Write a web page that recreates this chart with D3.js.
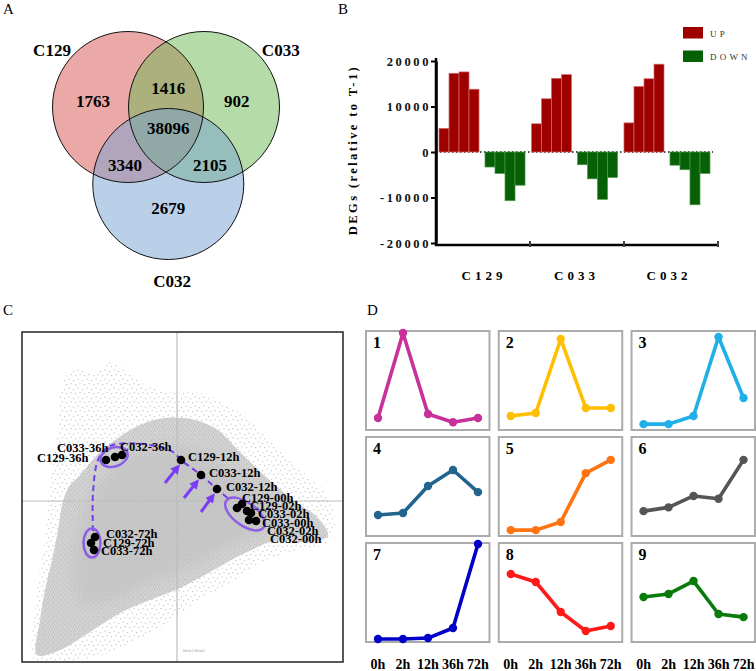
<!DOCTYPE html>
<html lang="en">
<head>
<meta charset="UTF-8">
<title>DEG figure</title>
<script src="https://d3js.org/d3.v7.min.js"></script>
<style>
  body { margin: 0; background: #fff; }
  svg text { font-family: "Liberation Serif", "Times New Roman", serif; }
</style>
</head>
<body>
<script>
// ---------- data ----------
// A: venn
var vennSets = ["C129", "C033", "C032"];
var vennSetColors = ["#d5534f", "#6bb751", "#75a1d1"];
var vennRegions = ["C129", "C033", "C032", "C129&C033", "C129&C032", "C033&C032", "all"];
var vennCounts = [1763, 902, 2679, 1416, 3340, 2105, 38096];

// B: DEGs relative to T-1
var degGroups = ["C129", "C033", "C032"];
var degTimes = ["2h", "12h", "36h", "72h"];
var upValues = [
  [5200, 17300, 17600, 13800],
  [6200, 11700, 16200, 17000],
  [6400, 14400, 16100, 19300]
];
var downValues = [
  [-3300, -4700, -10700, -7300],
  [-2800, -5900, -10400, -5600],
  [-2900, -3900, -11600, -4700]
];
var degTicks = [-20000, -10000, 0, 10000, 20000];

// C: PCA samples
var sampleNames = ["C129-36h", "C033-36h", "C032-36h", "C129-12h", "C033-12h", "C032-12h",
  "C129-00h", "C129-02h", "C033-02h", "C033-00h", "C032-02h", "C032-00h",
  "C032-72h", "C129-72h", "C033-72h"];
var samplePC1 = [-71, -62, -55, 4, 24, 40, 60, 65, 70, 74, 72, 79, -82, -86, -83];
var samplePC2 = [41, 44, 46, 41, 26, 12, -7, -3, -10, -12, -19, -20, -36, -42, -49];
// gene cloud outlines (halo / body / dense core), PC units
var haloOutline = [[-143,-159],[-141,-99],[-133,-44],[-127,16],[-119,71],[-115,116],[-102,133],[-82,126],
  [-67,139],[-37,119],[-12,109],[23,108],[51,96],[81,73],[115,39],[150,6],[158,-24],[150,-42],[123,-49],
  [85,-61],[55,-81],[23,-99],[-9,-121],[-42,-141],[-79,-155],[-117,-161]];
var bodyOutline = [[-140,-154],[-137,-119],[-132,-89],[-125,-59],[-119,-29],[-115,-4],[-109,13],[-97,26],
  [-80,46],[-59,63],[-37,76],[-12,83],[18,81],[41,71],[63,49],[88,25],[116,1],[141,-17],[151,-35],[128,-41],
  [98,-40],[68,-52],[33,-71],[3,-87],[-27,-99],[-57,-112],[-87,-131],[-117,-149]];
var coreOutline = [[-102,-59],[-97,-19],[-82,11],[-57,39],[-27,53],[8,54],[38,43],[68,23],[103,-4],[118,-24],
  [83,-31],[48,-47],[13,-65],[-27,-81],[-67,-99],[-92,-104],[-102,-84]];
var trajectory = [[-84,-30],[-84,8],[-79,41],[-70,53],[-60,57],[-27,56],[-4,49],[4,41],[24,26],[40,12],[53,1]];

// D: cluster expression profiles (normalised)
var clusterIds = [1, 2, 3, 4, 5, 6, 7, 8, 9];
var clusterTimes = ["0h", "2h", "12h", "36h", "72h"];
var clusterColors = ["#c8309a", "#ffbf00", "#1eb0e6", "#21658f", "#ff7410", "#555555", "#0000c8", "#ff1a1a", "#0a7a0a"];
var clusterProfiles = [
  [0.095, 0.99, 0.137, 0.05, 0.095],
  [0.116, 0.147, 0.926, 0.2, 0.2],
  [0.03, 0.03, 0.116, 0.947, 0.305],
  [0.19, 0.21, 0.495, 0.663, 0.43],
  [0.03, 0.03, 0.116, 0.63, 0.77],
  [0.23, 0.27, 0.39, 0.36, 0.77],
  [0.0, 0.0, 0.01, 0.116, 1.0],
  [0.684, 0.6, 0.284, 0.084, 0.137],
  [0.442, 0.474, 0.61, 0.263, 0.23]
];

// ---------- canvas ----------
var svg = d3.select("body").append("svg")
  .attr("width", 756).attr("height", 671);
var defs = svg.append("defs");

// panel letters
var letters = [["A", 3, 14], ["B", 338, 14], ["C", 3, 315], ["D", 367, 315]];
svg.selectAll(".plabel").data(letters).enter().append("text")
  .attr("class", "plabel")
  .attr("x", function (d) { return d[1]; })
  .attr("y", function (d) { return d[2]; })
  .style("font-size", "15px")
  .text(function (d) { return d[0]; });

// ---------- A: venn ----------
var vennX = d3.scaleLinear().domain([-0.5, 0.5]).range([128, 204]);
var vennY = d3.scaleLinear().domain([0, 1]).range([107, 184]);
var vennR = 75.5;
var vennCenters = [[-0.5, 0], [0.5, 0], [0.03, 1]];
var vennRegionPos = [[-0.96, -0.08], [0.93, -0.08], [0.03, 1.31], [0.03, -0.25], [-0.54, 0.75], [0.58, 0.75], [0.03, 0.27]];
var vennSetPos = [[-1.5, -0.74], [1.51, -0.74], [0.08, 2.26]];

var gA = svg.append("g");
gA.selectAll("circle").data(vennSets).enter().append("circle")
  .attr("cx", function (d, i) { return vennX(vennCenters[i][0]); })
  .attr("cy", function (d, i) { return vennY(vennCenters[i][1]); })
  .attr("r", vennR)
  .attr("fill", function (d, i) { return vennSetColors[i]; })
  .attr("fill-opacity", 0.5);
gA.selectAll("circle.outline").data(vennSets).enter().append("circle")
  .attr("class", "outline")
  .attr("cx", function (d, i) { return vennX(vennCenters[i][0]); })
  .attr("cy", function (d, i) { return vennY(vennCenters[i][1]); })
  .attr("r", vennR)
  .attr("fill", "none").attr("stroke", "#111").attr("stroke-width", 1);
gA.selectAll("text.count").data(vennCounts).enter().append("text")
  .attr("class", "count")
  .attr("x", function (d, i) { return vennX(vennRegionPos[i][0]); })
  .attr("y", function (d, i) { return vennY(vennRegionPos[i][1]); })
  .attr("dy", "0.35em").attr("text-anchor", "middle")
  .style("font-size", "17px").style("font-weight", "bold")
  .text(function (d) { return d; });
gA.selectAll("text.set").data(vennSets).enter().append("text")
  .attr("class", "set")
  .attr("x", function (d, i) { return vennX(vennSetPos[i][0]); })
  .attr("y", function (d, i) { return vennY(vennSetPos[i][1]); })
  .attr("dy", "0.35em").attr("text-anchor", "middle")
  .style("font-size", "17px").style("font-weight", "bold")
  .text(function (d) { return d; });

// ---------- B: bars ----------
var yB = d3.scaleLinear().domain([-20000, 20000]).range([243, 61]);
var gxB = d3.scaleBand().domain(degGroups).range([439, 710]).paddingInner(0.07);
var segB = d3.scaleBand().domain(degGroups).range([436, 718]);
var dirB = d3.scaleBand().domain(["UP", "DOWN"]).range([0, gxB.bandwidth()]).paddingInner(0.13);
var tB = d3.scaleBand().domain(degTimes).range([0, dirB.bandwidth()]);
var gB = svg.append("g");

// dotted zero line
gB.append("line")
  .attr("x1", 436).attr("x2", 713).attr("y1", yB(0)).attr("y2", yB(0))
  .attr("stroke", "#111").attr("stroke-width", 1.6).attr("stroke-dasharray", "1.5,2.5");

var barRows = [];
degGroups.forEach(function (g, gi) {
  degTimes.forEach(function (t, ti) {
    barRows.push({ g: g, t: t, dir: "UP", v: upValues[gi][ti] });
    barRows.push({ g: g, t: t, dir: "DOWN", v: downValues[gi][ti] });
  });
});
gB.selectAll("rect.bar").data(barRows).enter().append("rect")
  .attr("class", "bar")
  .attr("x", function (d) { return gxB(d.g) + dirB(d.dir) + tB(d.t); })
  .attr("width", tB.bandwidth())
  .attr("y", function (d) { return Math.min(yB(d.v), yB(0)); })
  .attr("height", function (d) { return Math.abs(yB(d.v) - yB(0)); })
  .attr("fill", function (d) { return d.dir === "UP" ? "#9e0000" : "#066006"; })
  .attr("stroke", function (d) { return d.dir === "UP" ? "#d46a6a" : "#4a9a4a"; })
  .attr("stroke-width", 0.7);

var axB = gB.append("g").attr("transform", "translate(436,0)")
  .call(d3.axisLeft(yB).tickValues(degTicks).tickSize(5).tickSizeOuter(0)
    .tickFormat(function (d) { return String(d); }));
axB.select(".domain").attr("stroke", "#000").attr("stroke-width", 2.5);
axB.selectAll(".tick line").attr("stroke-width", 2);
axB.selectAll(".tick text")
  .style("font-family", "'Liberation Serif', serif")
  .style("font-size", "12.5px").style("font-weight", "bold")
  .style("letter-spacing", "2.6px").attr("fill", "#111").attr("x", -5);
gB.append("line").attr("x1", 436).attr("x2", 436).attr("y1", 58).attr("y2", 246)
  .attr("stroke", "#000").attr("stroke-width", 2.5);

// broken x axis under each group
gB.selectAll("line.xseg").data(degGroups).enter().append("line")
  .attr("class", "xseg")
  .attr("x1", function (d, i) { return segB(d) + (i === 0 ? -1 : 1); })
  .attr("x2", function (d) { return segB(d) + segB.bandwidth() - 1; })
  .attr("y1", 245).attr("y2", 245)
  .attr("stroke", "#000").attr("stroke-width", 2.5);
gB.selectAll("line.xbrk").data(degGroups).enter().append("line")
  .attr("class", "xbrk")
  .attr("x1", function (d) { return segB(d) + segB.bandwidth(); })
  .attr("x2", function (d) { return segB(d) + segB.bandwidth(); })
  .attr("y1", 241).attr("y2", 247)
  .attr("stroke", "#000").attr("stroke-width", 1.5);
gB.selectAll("text.grp").data(degGroups).enter().append("text")
  .attr("class", "grp")
  .attr("x", function (d) { return gxB(d) + gxB.bandwidth() / 2 + 2; })
  .attr("y", 280).attr("text-anchor", "middle")
  .style("font-size", "13px").style("font-weight", "bold").style("letter-spacing", "4px")
  .text(function (d) { return d; });
gB.append("text")
  .attr("transform", "translate(357,150) rotate(-90)")
  .attr("text-anchor", "middle")
  .style("font-size", "12.5px").style("font-weight", "bold").style("letter-spacing", "2.4px")
  .text("DEGs (relative to T-1)");

// legend
var legItems = ["UP", "DOWN"];
var legColors = ["#9e0000", "#066006"];
var leg = gB.selectAll("g.leg").data(legItems).enter().append("g")
  .attr("class", "leg")
  .attr("transform", function (d, i) { return "translate(683," + (27 + i * 23.5) + ")"; });
leg.append("rect").attr("width", 20).attr("height", 11.5)
  .attr("fill", function (d, i) { return legColors[i]; });
leg.append("text").attr("x", 27).attr("y", 9.5)
  .style("font-size", "9px").style("letter-spacing", "3.2px").attr("fill", "#333")
  .text(function (d) { return d; });

// ---------- C: PCA ----------
var pcX = d3.scaleLinear().domain([-155, 166]).range([22, 343]);
var pcY = d3.scaleLinear().domain([-161, 169]).range([662, 332]);
var gC = svg.append("g");
defs.append("clipPath").attr("id", "clipC").append("rect")
  .attr("x", pcX(-155)).attr("y", pcY(169))
  .attr("width", pcX(166) - pcX(-155)).attr("height", pcY(-161) - pcY(169));
defs.append("filter").attr("id", "soft")
  .attr("x", "-20%").attr("y", "-20%").attr("width", "140%").attr("height", "140%")
  .append("feGaussianBlur").attr("stdDeviation", 7);

// speckle patterns for the gene cloud
var pSparse = defs.append("pattern").attr("id", "sparse")
  .attr("patternUnits", "userSpaceOnUse").attr("width", 9).attr("height", 9);
[[1, 2], [5.5, 0.5], [3, 6], [7.5, 5]].forEach(function (p) {
  pSparse.append("rect").attr("x", p[0]).attr("y", p[1]).attr("width", 1.2).attr("height", 1.2).attr("fill", "#c6c6c6");
});
var pDense = defs.append("pattern").attr("id", "dense")
  .attr("patternUnits", "userSpaceOnUse").attr("width", 5).attr("height", 5);
pDense.append("rect").attr("width", 5).attr("height", 5).attr("fill", "#d4d4d4");
[[0.5, 0.5], [3, 1.5], [1.5, 3.2], [4, 4]].forEach(function (p) {
  pDense.append("rect").attr("x", p[0]).attr("y", p[1]).attr("width", 1.1).attr("height", 1.1).attr("fill", "#b9b9b9");
});

var cloudLine = d3.line()
  .x(function (d) { return pcX(d[0]); })
  .y(function (d) { return pcY(d[1]); })
  .curve(d3.curveCatmullRomClosed);
var cloud = gC.append("g").attr("clip-path", "url(#clipC)");
cloud.append("path").attr("d", cloudLine(haloOutline)).attr("fill", "url(#sparse)");
cloud.append("path").attr("d", cloudLine(bodyOutline)).attr("fill", "url(#dense)");
cloud.append("path").attr("d", cloudLine(coreOutline)).attr("fill", "#bdbdbd").attr("fill-opacity", 0.5)
  .attr("filter", "url(#soft)");

// cross lines and frame
cloud.append("line").attr("x1", pcX(0)).attr("x2", pcX(0)).attr("y1", pcY(169)).attr("y2", pcY(-161))
  .attr("stroke", "#bdbdbd").attr("stroke-width", 1.2);
cloud.append("line").attr("x1", pcX(-155)).attr("x2", pcX(166)).attr("y1", pcY(0)).attr("y2", pcY(0))
  .attr("stroke", "#bdbdbd").attr("stroke-width", 1.2);
gC.append("rect")
  .attr("x", pcX(-155)).attr("y", pcY(169))
  .attr("width", pcX(166) - pcX(-155)).attr("height", pcY(-161) - pcY(169))
  .attr("fill", "none").attr("stroke", "#222").attr("stroke-width", 1.5);
gC.append("text").attr("x", pcX(0) + 6).attr("y", pcY(-151))
  .style("font-size", "4px").attr("fill", "#999").text("Ident1.Ident2");

// trajectory
var purple = "#7440ec";
gC.append("path")
  .attr("d", d3.line().x(function (d) { return pcX(d[0]); }).y(function (d) { return pcY(d[1]); })
    .curve(d3.curveCatmullRom)(trajectory))
  .attr("fill", "none").attr("stroke", purple).attr("stroke-width", 2)
  .attr("stroke-dasharray", "6,4");

// group ellipses [cx, cy, rx, ry, angle]
var ellipses = [[-63, 44, 14, 9.5, -18], [68, -13, 23, 11.5, 36], [-85, -42, 8.5, 14.5, 0]];
gC.selectAll("ellipse").data(ellipses).enter().append("ellipse")
  .attr("transform", function (d) { return "translate(" + pcX(d[0]) + "," + pcY(d[1]) + ") rotate(" + d[4] + ")"; })
  .attr("rx", function (d) { return d[2]; })
  .attr("ry", function (d) { return d[3]; })
  .attr("fill", "none").attr("stroke", "#8c5ee8").attr("stroke-width", 2.5);

// arrows
defs.append("marker").attr("id", "ahead")
  .attr("viewBox", "0 0 10 10").attr("refX", 5).attr("refY", 5)
  .attr("markerWidth", 3.2).attr("markerHeight", 3.2).attr("orient", "auto")
  .append("path").attr("d", "M0,0 L10,5 L0,10 z").attr("fill", "#7a3df5");
var arrows = [[-12, 18, 0, 33], [7, 3, 19, 18], [24, -11, 35, 4]];
gC.selectAll("line.arrow").data(arrows).enter().append("line")
  .attr("class", "arrow")
  .attr("x1", function (d) { return pcX(d[0]); }).attr("y1", function (d) { return pcY(d[1]); })
  .attr("x2", function (d) { return pcX(d[2]); }).attr("y2", function (d) { return pcY(d[3]); })
  .attr("stroke", "#7a3df5").attr("stroke-width", 3).attr("marker-end", "url(#ahead)");

// sample points
gC.selectAll("circle.sample").data(sampleNames).enter().append("circle")
  .attr("class", "sample")
  .attr("cx", function (d, i) { return pcX(samplePC1[i]); })
  .attr("cy", function (d, i) { return pcY(samplePC2[i]); })
  .attr("r", 4.3).attr("fill", "#000");

// sample labels: start positions (PC units)
var labelPC1 = [-140, -120, -57, 11, 32, 49, 65, 73, 81, 85, 90, 93, -71, -74, -76];
var labelPC2 = [39.5, 49.5, 50.5, 40.5, 24.5, 10.5, -0.5, -8.5, -16.5, -25.5, -33.5, -41.5, -36.5, -45.5, -53.5];
gC.selectAll("text.slab").data(sampleNames).enter().append("text")
  .attr("class", "slab")
  .attr("x", function (d, i) { return pcX(labelPC1[i]); })
  .attr("y", function (d, i) { return pcY(labelPC2[i]); })
  .style("font-size", "12.5px").style("font-weight", "bold")
  .text(function (d) { return d; });

// ---------- D: clusters ----------
var colD = d3.scaleBand().domain([0, 1, 2]).range([366, 755]).paddingInner(0.07);
var rowD = d3.scaleBand().domain([0, 1, 2]).range([331, 642]).paddingInner(0.066);
var txD = d3.scalePoint().domain(clusterTimes).range([12, 112]);
var vyD = d3.scaleLinear().domain([0, 1]).range([rowD.bandwidth() - 3, 1]);
var lineD = d3.line()
  .x(function (d, i) { return txD(clusterTimes[i]); })
  .y(function (d) { return vyD(d); });

var cells = svg.selectAll("g.cluster").data(clusterIds).enter().append("g")
  .attr("class", "cluster")
  .attr("transform", function (d, i) { return "translate(" + colD(i % 3) + "," + rowD(Math.floor(i / 3)) + ")"; });
cells.append("rect")
  .attr("width", colD.bandwidth()).attr("height", rowD.bandwidth())
  .attr("fill", "#fff").attr("stroke", "#ababab").attr("stroke-width", 2);
cells.append("path")
  .attr("d", function (d, i) { return lineD(clusterProfiles[i]); })
  .attr("fill", "none")
  .attr("stroke", function (d, i) { return clusterColors[i]; })
  .attr("stroke-width", 3.6).attr("stroke-linejoin", "round");
cells.each(function (d, i) {
  d3.select(this).selectAll("circle").data(clusterProfiles[i]).enter().append("circle")
    .attr("cx", function (v, j) { return txD(clusterTimes[j]); })
    .attr("cy", function (v) { return vyD(v); })
    .attr("r", 4.2).attr("fill", clusterColors[i]);
});
cells.append("text")
  .attr("x", 7).attr("y", 17)
  .style("font-size", "16px").style("font-weight", "bold")
  .text(function (d) { return d; });

// time labels under each column
[0, 1, 2].forEach(function (c) {
  svg.selectAll("text.tl" + c).data(clusterTimes).enter().append("text")
    .attr("class", "tl" + c)
    .attr("x", function (t) { return colD(c) + txD(t); })
    .attr("y", 669).attr("text-anchor", "middle")
    .style("font-size", "14px").style("font-weight", "bold")
    .text(function (t) { return t; });
});
</script>
</body>
</html>
